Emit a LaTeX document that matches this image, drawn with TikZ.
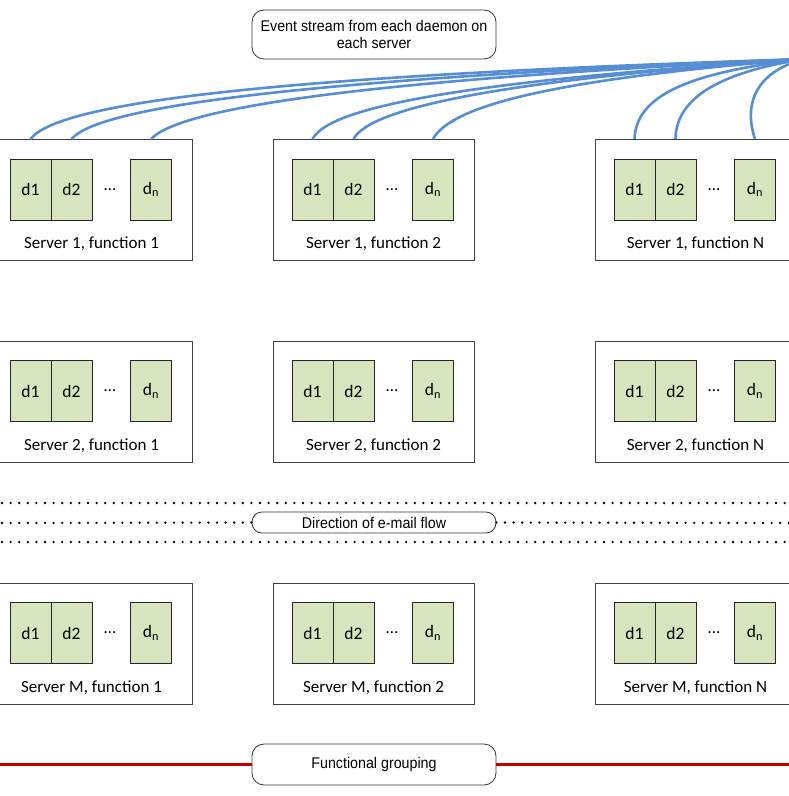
\documentclass[tikz,border=0pt]{standalone}
\usepackage{fontspec}
\setmainfont{Carlito}
\newfontfamily\narrowfont[FakeStretch=0.92]{Liberation Sans}
\definecolor{streamblue}{RGB}{85,142,213}
\definecolor{daemongreen}{RGB}{215,228,189}
\definecolor{groupred}{RGB}{192,0,0}
\begin{document}
\begin{tikzpicture}[x=1pt,y=-1pt,
  server/.style={draw=black!75,line width=0.9pt,minimum width=201pt,minimum height=121pt,inner sep=0pt},
  daemon/.style={draw=black!85,line width=0.9pt,fill=daemongreen,minimum width=41pt,minimum height=61pt,inner sep=0pt,font=\fontsize{17.5}{20}\selectfont},
  dots/.style={inner sep=0pt,font=\fontsize{17}{20}\selectfont},
  slabel/.style={inner sep=0pt,font=\fontsize{17}{20}\selectfont},
  note/.style={draw=black!80,line width=0.8pt,fill=white,rounded corners=12pt,minimum width=244pt,inner sep=0pt,align=center,font=\narrowfont\fontsize{15.5}{17}\selectfont},
  stream/.style={draw=streamblue,line width=2.6pt},
  dotline/.style={line width=2.6pt,line cap=round,dash pattern=on 0pt off 8.6pt},
  redline/.style={draw=groupred,line width=3pt}]
\useasboundingbox (0,0) rectangle (789,796);
\foreach \r/\ry/\rl in {1/200/1,2/401.5/2,3/643.5/M}{
  \foreach \c/\cx/\cl in {1/91.5/1,2/373.5/2,3/695.5/N}{
    \node[server] (s\r\c) at (\cx,\ry) {};
    \node[daemon] (s\r\c a) at (\cx-61,\ry-10.5) {d1};
    \node[daemon] (s\r\c b) at (\cx-20,\ry-10.5) {d2};
    \node[daemon] (s\r\c n) at (\cx+59.5,\ry-10.5) {d\textsubscript{n}};
    \node[dots] (s\r\c e) at (\cx+18.5,\ry-10.5) {\dots};
    \node[slabel] (s\r\c l) at (\cx,\ry+44) {Server \rl, function \cl};
  }
}
% notes
\node[note,minimum height=49pt] (event) at (374,34.5) {Event stream from each daemon on\\each server};
\node[note,minimum height=21pt,rounded corners=10pt] (flow) at (374,522.5) {Direction of e-mail flow};
\node[note,minimum height=41pt] (group) at (374,764.5) {Functional grouping};
% stream curves
\coordinate (hub) at (805,59);
\draw[stream] (s11a |- s11.north) .. controls (60,100) and (300,75) .. (hub);
\draw[stream] (s11b |- s11.north) .. controls (100,105) and (320,78) .. (hub);
\draw[stream] (s11n |- s11.north) .. controls (180,108) and (360,80) .. (hub);
\draw[stream] (s12a |- s12.north) .. controls (330,105) and (480,80) .. (hub);
\draw[stream] (s12b |- s12.north) .. controls (370,108) and (500,80) .. (hub);
\draw[stream] (s12n |- s12.north) .. controls (450,108) and (540,80) .. (hub);
\draw[stream] (s13a |- s13.north) .. controls (636,95) and (690,72) .. (hub);
\draw[stream] (s13b |- s13.north) .. controls (676,98) and (720,72) .. (hub);
\draw[stream] (s13n |- s13.north) .. controls (742,100) and (760,70) .. (hub);
% dotted lines
\coordinate (dl1) at (2,503); \coordinate (dr1) at (789,503);
\coordinate (dl2) at (2,523); \coordinate (dr2) at (789,523);
\coordinate (dl3) at (2,542); \coordinate (dr3) at (789,542);
\draw[dotline] (dl1) -- (dr1);
\draw[dotline] (dl2) -- (flow.west);
\draw[dotline] (flow.east) -- (dr2);
\draw[dotline] (dl3) -- (dr3);
% red line
\coordinate (rl) at (0,764.5); \coordinate (rr) at (789,764.5);
\draw[redline] (rl) -- (group.west);
\draw[redline] (group.east) -- (rr);
\end{tikzpicture}
\end{document}
